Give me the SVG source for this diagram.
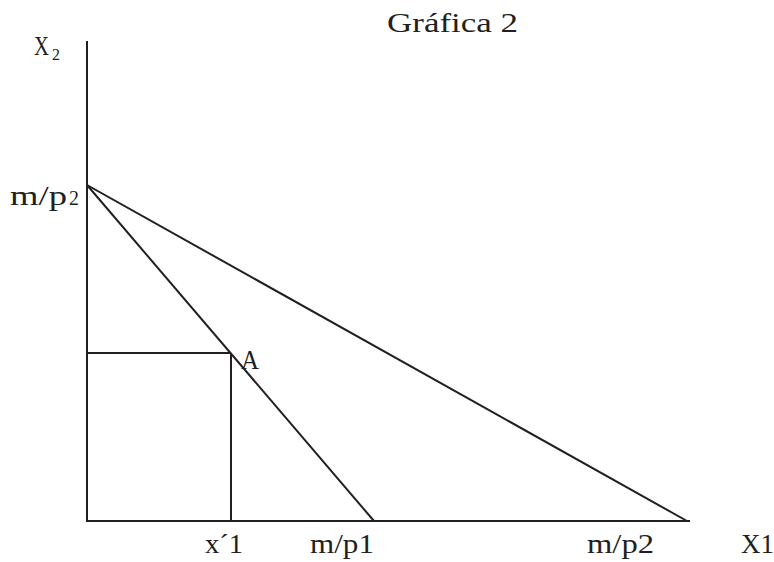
<svg xmlns="http://www.w3.org/2000/svg" width="774" height="562" viewBox="0 0 774 562">
<style>
text{font-family:"Liberation Serif","DejaVu Serif",serif;font-size:27px;fill:#231f20}
text.sub{font-size:16px}
.ln{stroke:#231f20;stroke-width:2;fill:none}
</style>
<rect width="774" height="562" fill="#fff"/>
<g id="title"><text x="387" y="32" textLength="131" lengthAdjust="spacingAndGlyphs">Gráfica 2</text></g>
<g id="connectors">
<line class="ln" x1="87" y1="41" x2="87" y2="521"/>
<line class="ln" x1="86" y1="521" x2="690" y2="521"/>
<line class="ln" x1="87" y1="185" x2="374" y2="521"/>
<line class="ln" x1="87" y1="185" x2="687" y2="521"/>
<line class="ln" x1="87" y1="353" x2="231" y2="353"/>
<line class="ln" x1="231" y1="353" x2="231" y2="521"/>
</g>
<g id="label-x2"><text x="34" y="55" textLength="15" lengthAdjust="spacingAndGlyphs">X</text><text class="sub" x="52" y="60">2</text></g>
<g id="label-mp2-axis"><text x="10" y="205"><tspan textLength="57" lengthAdjust="spacingAndGlyphs">m/p</tspan><tspan font-size="20" dx="2">2</tspan></text></g>
<g id="label-A"><text x="241" y="369" textLength="18" lengthAdjust="spacingAndGlyphs">A</text></g>
<g id="label-x1prime"><text x="205" y="553" textLength="38" lengthAdjust="spacingAndGlyphs">x´1</text></g>
<g id="label-mp1"><text x="310" y="553" textLength="64" lengthAdjust="spacingAndGlyphs">m/p1</text></g>
<g id="label-mp2"><text x="587" y="553" textLength="67" lengthAdjust="spacingAndGlyphs">m/p2</text></g>
<g id="label-X1"><text x="741" y="553" textLength="33" lengthAdjust="spacingAndGlyphs">X1</text></g>
</svg>
